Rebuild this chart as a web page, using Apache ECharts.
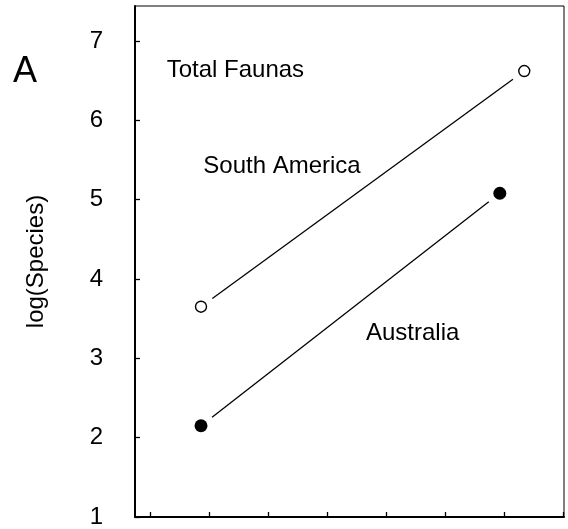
<!DOCTYPE html>
<html>
<head>
<meta charset="utf-8">
<script src="https://cdn.jsdelivr.net/npm/echarts@6/dist/echarts.min.js"></script>
<style>
html,body{margin:0;padding:0;background:#fff;}
#chart{width:568px;height:529px;}
</style>
</head>
<body>
<div id="chart"></div>
<script>
// Data
const saX = [0.855, 6.345];   // South America (open circles)
const saY = [3.65, 6.62];
const auX = [0.855, 5.93];    // Australia (filled circles)
const auY = [2.15, 5.08];
const xTicks = [0, 1, 2, 3, 4, 5, 6, 7];
const yTicks = [1, 2, 3, 4, 5, 6, 7];
const yLabels = ['1', '2', '3', '4', '5', '6', '7'];
const texts = ['A', 'Total Faunas', 'South America', 'Australia'];
const yName = 'log(Species)';

const FONT = "'Liberation Sans', Arial, sans-serif";
const GAP = 14;

function pts(xs, ys) { return xs.map((x, i) => [x, ys[i]]); }

function gapLine(xs, ys) {
  return {
    type: 'custom',
    coordinateSystem: 'cartesian2d',
    data: [[xs[0], ys[0], xs[1], ys[1]]],
    z: 1,
    renderItem: function (params, api) {
      const p0 = api.coord([api.value(0), api.value(1)]);
      const p1 = api.coord([api.value(2), api.value(3)]);
      const dx = p1[0] - p0[0], dy = p1[1] - p0[1];
      const len = Math.sqrt(dx * dx + dy * dy);
      const ux = dx / len, uy = dy / len;
      return {
        type: 'line',
        shape: { x1: p0[0] + ux * GAP, y1: p0[1] + uy * GAP, x2: p1[0] - ux * GAP, y2: p1[1] - uy * GAP },
        style: { stroke: '#000', lineWidth: 1.3 }
      };
    }
  };
}

const chart = echarts.init(document.getElementById('chart'));
chart.setOption({
  animation: false,
  grid: { left: 135, right: 4, top: 6, bottom: 7.5, show: true, borderColor: '#000', borderWidth: 1 },
  xAxis: {
    type: 'value', min: -0.266, max: 7.02,
    axisLine: { show: true, onZero: false, lineStyle: { color: '#000', width: 2 } },
    axisTick: { show: true, inside: true, length: 5, customValues: xTicks, lineStyle: { color: '#000', width: 1.3 } },
    axisLabel: { show: false },
    splitLine: { show: false }
  },
  yAxis: {
    type: 'value', min: 1, max: 7.44,
    name: yName, nameLocation: 'middle', nameGap: 87,
    nameTextStyle: { fontFamily: FONT, fontSize: 24, color: '#000' },
    axisLine: { show: true, onZero: false, lineStyle: { color: '#000', width: 2 } },
    axisTick: { show: true, inside: true, length: 5, customValues: yTicks, lineStyle: { color: '#000', width: 1.3 } },
    axisLabel: {
      show: true, customValues: yTicks, margin: 32,
      fontFamily: FONT, fontSize: 24, color: '#000',
      formatter: function (v) { const i = yTicks.indexOf(Math.round(v)); return i >= 0 ? yLabels[i] : ''; }
    },
    splitLine: { show: false }
  },
  graphic: [
    { type: 'text', x: 13, y: 72, style: { text: texts[0], font: "36px " + FONT, fill: '#000', verticalAlign: 'middle' } },
    { type: 'text', x: 166.7, y: 70, style: { text: texts[1], font: "24px " + FONT, fill: '#000', verticalAlign: 'middle' } },
    { type: 'text', x: 203.3, y: 166.5, style: { text: texts[2], font: "24px " + FONT, fill: '#000', verticalAlign: 'middle' } },
    { type: 'text', x: 366, y: 333.5, style: { text: texts[3], font: "24px " + FONT, fill: '#000', verticalAlign: 'middle' } }
  ],
  series: [
    gapLine(saX, saY),
    gapLine(auX, auY),
    {
      type: 'scatter', data: pts(saX, saY), symbol: 'circle', symbolSize: 11, z: 3,
      itemStyle: { color: '#fff', borderColor: '#000', borderWidth: 1.4, opacity: 1 }
    },
    {
      type: 'scatter', data: pts(auX, auY), symbol: 'circle', symbolSize: 13, z: 3,
      itemStyle: { color: '#000', borderWidth: 0, opacity: 1 }
    }
  ]
});
</script>
</body>
</html>
